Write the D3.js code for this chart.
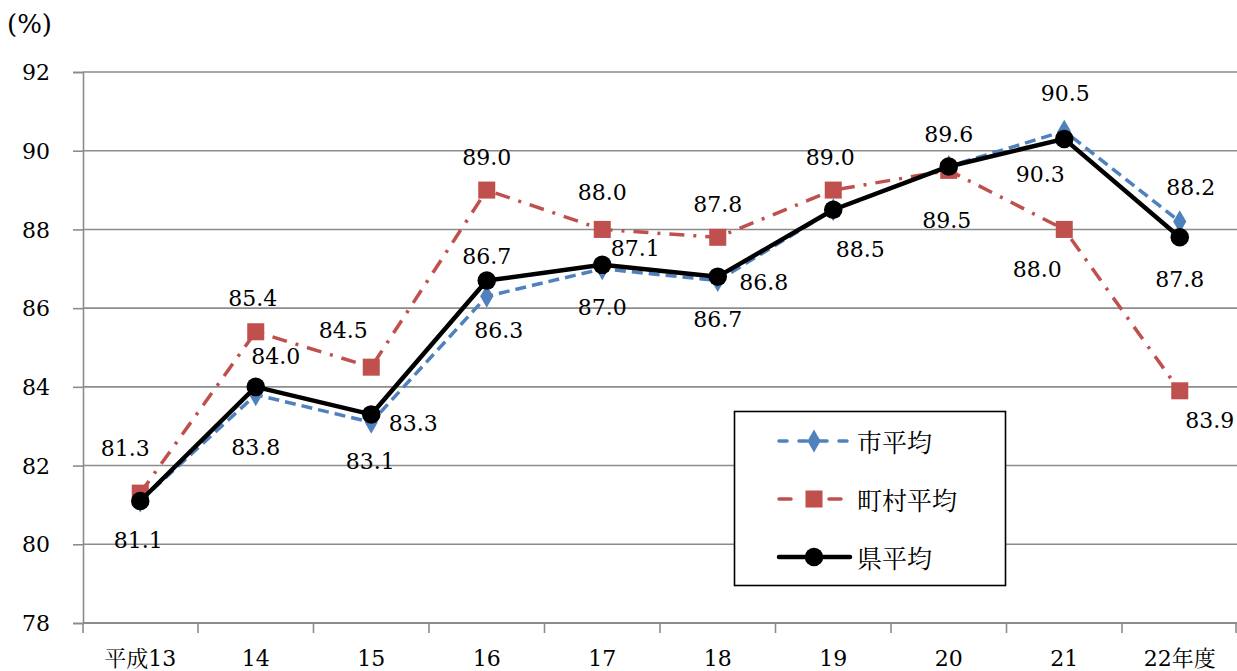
<!DOCTYPE html>
<html>
<head>
<meta charset="utf-8">
<script src="https://cdn.jsdelivr.net/npm/d3@7/dist/d3.min.js"></script>
<style>
  html, body { margin: 0; padding: 0; background: #fff; }
  svg { display: block; }
</style>
</head>
<body>
<svg id="chart" width="1237" height="671"></svg>
<script>
// Fiscal years (Heisei era)
const years = ["平成13", "14", "15", "16", "17", "18", "19", "20", "21", "22年度"];

// Averages (%) per group
const cityAvg    = [81.1, 83.8, 83.1, 86.3, 87.0, 86.7, 88.5, 89.6, 90.5, 88.2];
const townAvg    = [81.3, 85.4, 84.5, 89.0, 88.0, 87.8, 89.0, 89.5, 88.0, 83.9];
const prefAvg    = [81.1, 84.0, 83.3, 86.7, 87.1, 86.8, 88.5, 89.6, 90.3, 87.8];

const seriesNames = ["市平均", "町村平均", "県平均"];
const yTicks = [78, 80, 82, 84, 86, 88, 90, 92];

// Label placement (dx, dy from the point); null = no label drawn
const cityLabelPos = [null, [0, 53], [-1, 39], [12, 34], [0, 39], [0, 39], null, null, [1, -38], [11, -34]];
const townLabelPos = [[-15, -45], [-3, -33], [-28, -37], [0, -33], [0, -37], [0, -33], [-3, -33], [-2, 50], [-27, 40], [30, 30]];
const prefLabelPos = [[-2, 40], [20, -30], [42, 9], [0, -24], [33, -16], [46, 6], [27, 40], [0, -32], [-24, 36], [0, 42]];

const svg = d3.select("#chart");
const plotLeft = 83, plotRight = 1237, plotTop = 72, plotBottom = 623;
const numFont = "'DejaVu Serif'";
const cjkFont = "'Noto Serif CJK JP'";
const numSize = "22px";

const x = d3.scaleBand().domain(years).range([plotLeft - 0.5, plotRight + 0.5]).padding(0);
const cx = d => x(d) + x.bandwidth() / 2;
const y = d3.scaleLinear().domain([78, 92]).range([plotBottom, plotTop]);

const gridColor = "#8c8c8c";

// Horizontal gridlines
svg.append("g")
  .selectAll("line")
  .data(yTicks.filter(t => t !== 78))
  .join("line")
  .attr("x1", plotLeft).attr("x2", plotRight)
  .attr("y1", d => y(d)).attr("y2", d => y(d))
  .attr("stroke", gridColor).attr("stroke-width", 1.6);

// Y axis
const yAxis = svg.append("g")
  .attr("transform", `translate(${plotLeft},0)`)
  .call(d3.axisLeft(y).tickValues(yTicks).tickSize(10).tickPadding(23).tickFormat(d3.format("d")));
yAxis.attr("font-family", null).attr("font-size", null);
yAxis.select(".domain").attr("stroke", gridColor).attr("stroke-width", 1.6);
yAxis.selectAll(".tick line").attr("stroke", gridColor).attr("stroke-width", 1.6);
yAxis.selectAll("text")
  .style("font-family", numFont).style("font-size", numSize)
  .attr("fill", "#000").attr("dy", "0.35em");

// X axis line and boundary ticks
svg.append("line")
  .attr("x1", plotLeft).attr("x2", plotRight).attr("y1", plotBottom).attr("y2", plotBottom)
  .attr("stroke", gridColor).attr("stroke-width", 1.8);
const bounds = years.map(d => x(d)).concat([x(years[years.length - 1]) + x.bandwidth()]);
svg.append("g").selectAll("line")
  .data(bounds)
  .join("line")
  .attr("x1", d => Math.min(Math.max(d, plotLeft), plotRight - 1)).attr("x2", d => Math.min(Math.max(d, plotLeft), plotRight - 1))
  .attr("y1", plotBottom).attr("y2", plotBottom + 10)
  .attr("stroke", gridColor).attr("stroke-width", 1.6);

// X labels: kanji and digits set in separate runs
const xAxis = svg.append("g")
  .attr("transform", `translate(0,${plotBottom})`)
  .call(d3.axisBottom(x).tickSize(0).tickPadding(27));
xAxis.attr("font-family", null).attr("font-size", null);
xAxis.select(".domain").remove();
xAxis.selectAll("text")
  .attr("fill", "#000").attr("dy", "0.71em")
  .style("font-size", numSize)
  .each(function (d) {
    const t = d3.select(this).text("");
    d.match(/[0-9]+|[^0-9]+/g).forEach(part => {
      t.append("tspan")
        .style("font-family", /[0-9]/.test(part) ? numFont : cjkFont)
        .text(part);
    });
  });

// Unit label
svg.append("text")
  .attr("x", 7).attr("y", 33)
  .style("font-family", numFont).style("font-size", "26px")
  .text("(%)");

const line = d3.line().x((d, i) => cx(years[i])).y(d => y(d));

const series = [
  { name: seriesNames[0], values: cityAvg, color: "#4f81bd", width: 3.5, dash: "11,6", marker: "diamond", labels: cityLabelPos },
  { name: seriesNames[1], values: townAvg, color: "#c0504d", width: 3.5, dash: "15,9,3,9", marker: "square", labels: townLabelPos },
  { name: seriesNames[2], values: prefAvg, color: "#000000", width: 4.5, dash: null, marker: "circle", labels: prefLabelPos }
];

const symbolFor = {
  diamond: d3.symbol().type(d3.symbolDiamond).size(150),
  square: d3.symbol().type(d3.symbolSquare).size(290),
  circle: d3.symbol().type(d3.symbolCircle).size(270)
};

series.forEach(s => {
  const g = svg.append("g");
  g.append("path")
    .datum(s.values)
    .attr("d", line)
    .attr("fill", "none")
    .attr("stroke", s.color)
    .attr("stroke-width", s.width)
    .attr("stroke-linejoin", "round")
    .attr("stroke-dasharray", s.dash);
  g.selectAll("path.mk")
    .data(s.values)
    .join("path")
    .attr("class", "mk")
    .attr("d", symbolFor[s.marker])
    .attr("transform", (d, i) => `translate(${cx(years[i])},${y(d)})`)
    .attr("fill", s.color);
});

// Value labels
series.forEach(s => {
  svg.append("g").selectAll("text")
    .data(s.values.map((v, i) => ({ v, i, p: s.labels[i] })).filter(d => d.p))
    .join("text")
    .attr("x", d => cx(years[d.i]) + d.p[0])
    .attr("y", d => y(d.v) + d.p[1])
    .attr("text-anchor", "middle")
    .attr("dominant-baseline", "central")
    .style("font-family", numFont).style("font-size", numSize)
    .text(d => d3.format(".1f")(d.v));
});

// Legend
const lg = svg.append("g");
lg.append("rect")
  .attr("x", 734.5).attr("y", 411.5).attr("width", 271).attr("height", 174)
  .attr("fill", "#fff").attr("stroke", "#000").attr("stroke-width", 1.6);
series.forEach((s, k) => {
  const ly = 441 + k * 58;
  lg.append("line")
    .attr("x1", 779).attr("x2", 850).attr("y1", ly).attr("y2", ly)
    .attr("stroke", s.color).attr("stroke-width", s.width)
    .attr("stroke-linecap", "round")
    .attr("stroke-dasharray", s.dash ? (k === 0 ? "8,12" : "12,38") : null);
  lg.append("path")
    .attr("d", symbolFor[s.marker])
    .attr("transform", `translate(814,${ly})`)
    .attr("fill", s.color);
  lg.append("text")
    .attr("x", 857).attr("y", ly)
    .attr("dominant-baseline", "central")
    .style("font-family", cjkFont).style("font-size", "25px")
    .text(s.name);
});
</script>
</body>
</html>
